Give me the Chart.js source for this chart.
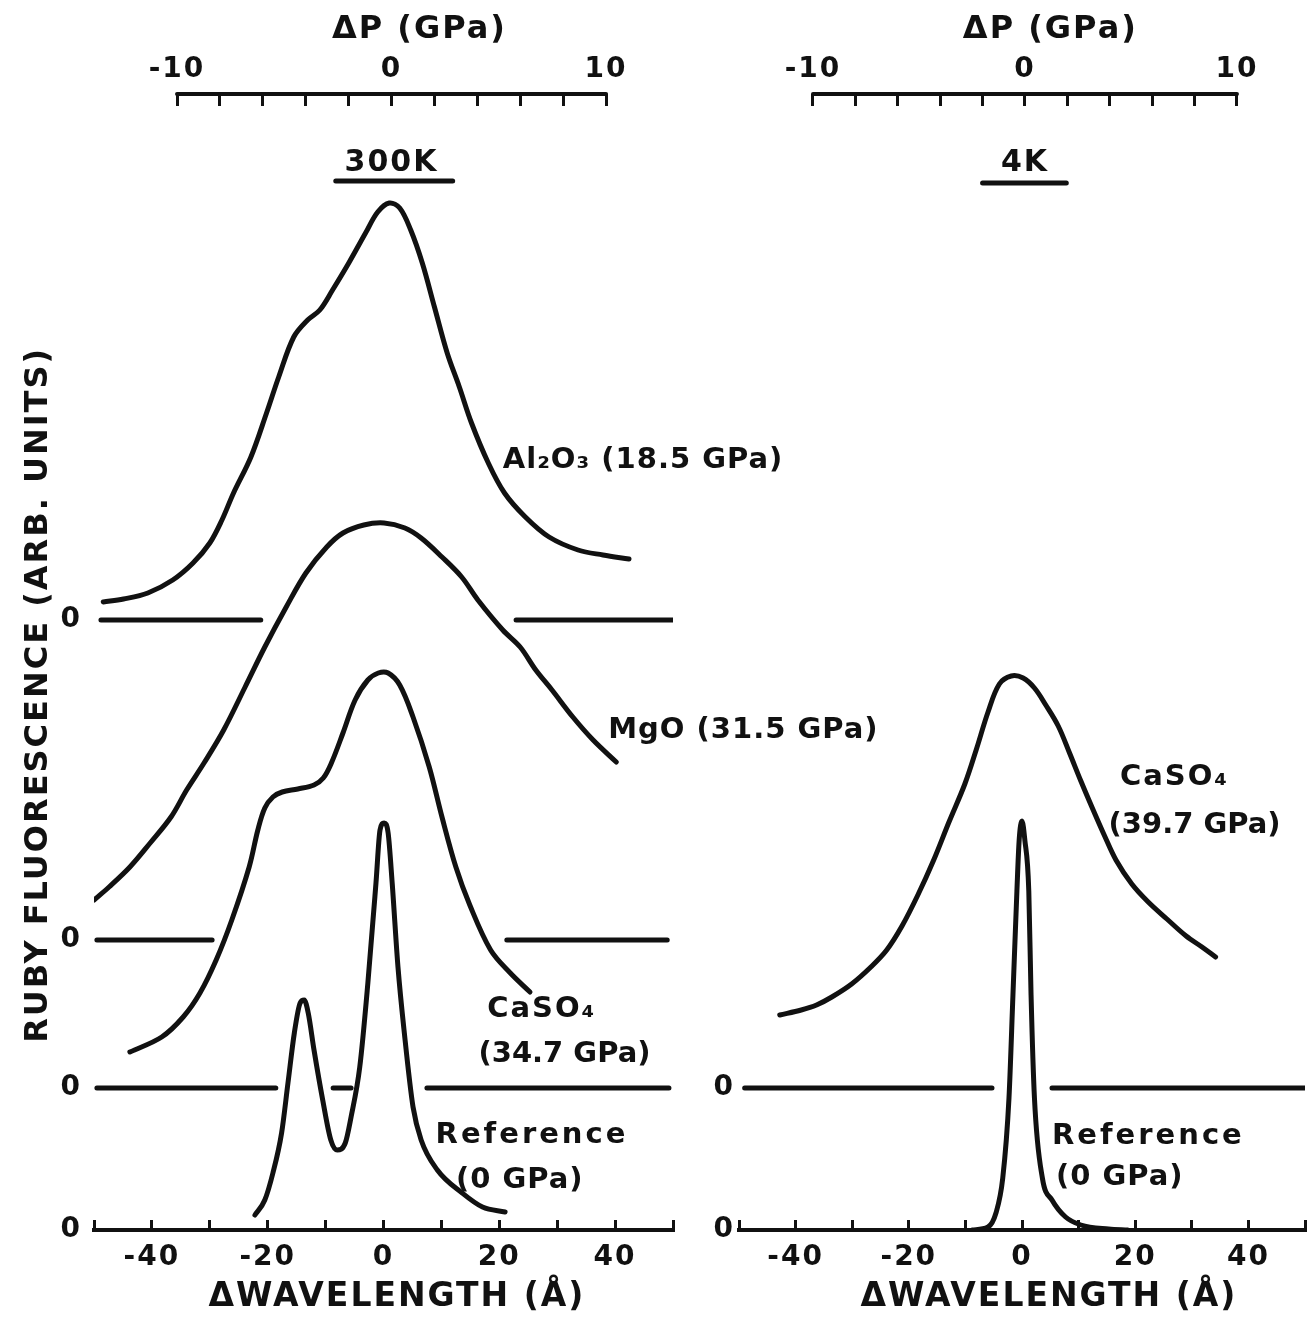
<!DOCTYPE html>
<html>
<head>
<meta charset="utf-8">
<script src="https://cdn.jsdelivr.net/npm/chart.js@4.4.1/dist/chart.umd.min.js"></script>
<style>
  html, body { margin: 0; padding: 0; background: #fff; overflow: hidden; }
  #page { position: relative; width: 1307px; height: 1323px; overflow: hidden; background: #fff; }
  #left { position: absolute; left: 0; top: 0; width: 900px; height: 1323px; }
  #right { position: absolute; left: 700px; top: 0; width: 630px; height: 1323px; }
</style>
</head>
<body>
<div id="page">
  <canvas id="left" width="900" height="1323"></canvas>
  <canvas id="right" width="630" height="1323"></canvas>
</div>
<script>
const INK = '#111'
const FONT = '"DejaVu Sans", sans-serif'

// wavelength shift (Å) and fluorescence (arb. units above each trace's own zero line)

// 300 K
const al2o3Shift = [-48.4, -44.9, -40.7, -36.4, -32.9, -30.0, -27.9, -25.9, -22.9, -20.2, -18.1, -15.5, -13.1, -11.0, -8.8, -6.0, -3.1, -1.0, 1.0, 2.8, 4.7, 6.7, 8.8, 11.0, 13.1, 15.2, 18.1, 20.9, 24.5, 28.6, 33.6, 37.9, 42.4]
const al2o3Level = [1.8, 2.1, 2.7, 4.0, 5.7, 7.7, 10.0, 12.7, 16.3, 20.7, 24.3, 28.3, 30.0, 31.0, 33.0, 35.7, 38.7, 40.8, 41.7, 41.2, 39.0, 35.7, 31.3, 26.7, 23.3, 19.7, 15.7, 12.7, 10.3, 8.3, 7.0, 6.5, 6.1]

const mgoShift = [-50.0, -47.4, -43.8, -40.3, -36.7, -34.0, -31.0, -27.6, -23.9, -20.5, -16.8, -13.4, -9.8, -7.0, -3.4, 0.1, 3.7, 6.5, 10.1, 13.5, 16.3, 20.6, 23.6, 26.3, 29.1, 32.7, 36.2, 40.2]
const mgoLevel = [4.0, 5.3, 7.3, 9.7, 12.3, 15.0, 17.7, 21.0, 25.3, 29.3, 33.3, 36.7, 39.3, 40.7, 41.5, 41.7, 41.2, 40.2, 38.3, 36.3, 34.0, 31.0, 29.3, 27.0, 25.0, 22.3, 20.0, 17.8]

const caso4Shift = [-43.8, -38.3, -34.6, -31.7, -28.9, -26.2, -23.2, -21.7, -20.5, -19.1, -17.5, -14.8, -12.0, -10.4, -9.0, -7.0, -4.9, -2.7, -0.9, 0.8, 2.8, 5.1, 7.9, 10.1, 12.5, 14.9, 18.5, 21.9, 25.3]
const caso4Level = [3.6, 5.1, 7.1, 9.5, 12.8, 16.8, 22.1, 25.8, 28.0, 29.1, 29.6, 29.9, 30.3, 31.0, 32.5, 35.5, 38.8, 40.8, 41.5, 41.5, 40.3, 37.1, 32.1, 27.1, 22.1, 18.3, 13.8, 11.5, 9.6]

const ref300Shift = [-22.2, -20.5, -19.1, -17.6, -16.5, -15.4, -14.4, -13.7, -13.0, -12.0, -10.5, -9.1, -8.0, -6.6, -5.6, -4.1, -2.7, -1.3, -0.6, 0.1, 0.8, 1.5, 2.5, 3.6, 5.1, 6.5, 9.3, 13.6, 17.1, 21.0]
const ref300Level = [1.5, 3.0, 5.7, 9.7, 14.7, 19.7, 22.7, 23.0, 21.7, 18.0, 13.0, 9.0, 8.0, 8.7, 11.3, 16.3, 24.7, 34.7, 40.0, 40.7, 39.7, 34.7, 26.3, 19.7, 12.3, 9.0, 6.0, 3.7, 2.3, 1.8]

// 4 K
const caso4ColdShift = [-42.8, -39.0, -36.3, -33.6, -30.1, -26.7, -23.9, -21.2, -18.4, -15.6, -12.9, -10.1, -8.1, -6.0, -4.0, -1.9, 0.2, 2.2, 4.2, 6.4, 8.4, 10.4, 12.5, 14.6, 16.6, 19.4, 22.3, 25.6, 29.0, 31.8, 34.2]
const caso4ColdLevel = [7.3, 7.8, 8.3, 9.1, 10.4, 12.1, 13.8, 16.2, 19.3, 22.8, 26.6, 30.4, 33.8, 37.6, 40.4, 41.2, 41.0, 40.0, 38.3, 36.2, 33.5, 30.7, 27.9, 25.2, 22.8, 20.4, 18.6, 16.9, 15.2, 14.1, 13.1]

const ref4Shift = [-8.8, -6.0, -4.6, -3.4, -2.3, -1.6, -0.9, -0.5, 0.0, 0.5, 1.2, 1.6, 2.2, 3.6, 5.3, 7.7, 10.4, 15.3, 18.7]
const ref4Level = [0, 0.3, 1.7, 5.2, 13.2, 23.5, 33.9, 39.0, 40.9, 39.0, 33.9, 23.5, 13.2, 5.2, 3.0, 1.3, 0.5, 0.1, 0]

// zero lines, drawn as from/to pairs (Å)
const al2o3Zero = [-48.8, -21.2, 22.9, 50.0]
const mgoZero = [-49.5, -29.6, 21.3, 49.0]
const caso4Zero = [-49.5, -18.6, -8.7, -5.6, 7.5, 49.3]
const caso4ColdZero = [-49.0, -5.3, 5.3, 50.0]

// where each trace's zero sits on the common intensity axis
const al2o3Base = 61.0
const mgoBase = 29.0
const caso4Base = 14.2
const refBase = 0

const wavelengthTicks = [-50, -40, -30, -20, -10, 0, 10, 20, 30, 40, 50]
const wavelengthLabels = [-40, -20, 0, 20, 40]
const pressureTicks = [-10, -8, -6, -4, -2, 0, 2, 4, 6, 8, 10]
const pressureLabels = [-10, 0, 10]

const Y_MAX = 113.6
const NBSP = '\u00a0'

// broad bands get a plain bezier, the narrow reference lines stay monotone so the peaks don't overshoot
function trace(shift, level, base, narrow) {
  const ds = {
    data: shift.map((v, i) => ({x: v, y: level[i] + base})),
    borderColor: INK
  }
  if (narrow) ds.cubicInterpolationMode = 'monotone'
  else ds.tension = 0.35
  return ds
}

function zero(edges, base) {
  const pts = []
  for (let i = 0; i < edges.length; i += 2) {
    if (i > 0) pts.push({x: (edges[i - 1] + edges[i]) / 2, y: null})
    pts.push({x: edges[i], y: base}, {x: edges[i + 1], y: base})
  }
  return {data: pts, tension: 0, borderColor: INK}
}

// ΔP ruler, headings and curve labels
function decor(cfg) {
  return {
    id: 'decor',
    beforeDraw(chart) {
      chart.ctx.letterSpacing = '2px'
    },
    afterDraw(chart) {
      const {ctx} = chart
      const {x, y, p} = chart.scales
      ctx.save()
      ctx.strokeStyle = INK
      ctx.fillStyle = INK
      ctx.lineCap = 'round'

      ctx.lineWidth = 4
      ctx.beginPath()
      ctx.moveTo(p.getPixelForValue(pressureTicks[0]), p.bottom)
      ctx.lineTo(p.getPixelForValue(pressureTicks[pressureTicks.length - 1]), p.bottom)
      ctx.stroke()

      ctx.textAlign = 'center'
      ctx.textBaseline = 'middle'
      ctx.letterSpacing = '2px'
      ctx.font = 'bold 32px ' + FONT
      ctx.fillText('ΔP (GPa)', p.getPixelForValue(cfg.titleAt[0]), y.getPixelForValue(cfg.titleAt[1]))

      ctx.font = 'bold 30px ' + FONT
      ctx.fillText(cfg.temp, p.getPixelForValue(0), y.getPixelForValue(cfg.tempAt))
      ctx.lineWidth = 5
      ctx.beginPath()
      ctx.moveTo(p.getPixelForValue(cfg.rule[0]), y.getPixelForValue(cfg.rule[2]))
      ctx.lineTo(p.getPixelForValue(cfg.rule[1]), y.getPixelForValue(cfg.rule[2]))
      ctx.stroke()

      ctx.textAlign = 'left'
      cfg.notes.forEach(n => {
        ctx.font = 'bold ' + n.size + 'px ' + FONT
        ctx.letterSpacing = n.spacing + 'px'
        ctx.fillText(n.text, x.getPixelForValue(n.x), y.getPixelForValue(n.y))
      })
      ctx.restore()
    }
  }
}

function panel(id, cfg) {
  const tickFont = {family: FONT, size: 28, weight: 'bold'}
  const titleFont = {family: FONT, size: 32, weight: 'bold'}

  return new Chart(document.getElementById(id), {
    type: 'line',
    data: {datasets: cfg.datasets},
    options: {
      responsive: false,
      maintainAspectRatio: false,
      animation: false,
      events: [],
      layout: {padding: {left: 0, right: cfg.padRight, top: 0, bottom: 0}},
      datasets: {
        line: {
          borderColor: INK,
          borderWidth: 5,
          pointRadius: 0,
          borderCapStyle: 'round',
          borderJoinStyle: 'round',
          fill: false,
          spanGaps: false
        }
      },
      plugins: {
        colors: {enabled: false},
        legend: {display: false},
        tooltip: {enabled: false}
      },
      scales: {
        x: {
          type: 'linear',
          position: 'bottom',
          min: -50,
          max: 50,
          afterFit: s => { s.height = 93 },
          afterBuildTicks: s => { s.ticks = wavelengthTicks.map(v => ({value: v})) },
          border: {display: true, color: INK, width: 4},
          grid: {display: true, drawOnChartArea: false, drawTicks: true, tickLength: -10, tickWidth: 3, tickColor: INK},
          ticks: {
            autoSkip: false,
            maxRotation: 0,
            padding: 21,
            color: INK,
            font: tickFont,
            callback: v => wavelengthLabels.includes(v) ? String(v) : ''
          },
          title: {
            display: true,
            text: NBSP.repeat(cfg.xTitleShift) + 'ΔWAVELENGTH (Å)',
            color: INK,
            font: {family: FONT, size: 33, weight: 'bold'},
            padding: {top: 0, bottom: 6}
          }
        },
        p: {
          type: 'linear',
          axis: 'x',
          position: 'top',
          min: cfg.pMin,
          max: cfg.pMax,
          afterFit: s => { s.height = 94 },
          afterBuildTicks: s => { s.ticks = pressureTicks.map(v => ({value: v})) },
          border: {display: false},
          grid: {display: true, drawOnChartArea: false, drawTicks: true, tickLength: -12, tickWidth: 3, tickColor: INK},
          ticks: {
            autoSkip: false,
            maxRotation: 0,
            padding: 19,
            color: INK,
            font: tickFont,
            callback: v => pressureLabels.includes(v) ? String(v) : ''
          }
        },
        y: {
          type: 'linear',
          min: 0,
          max: Y_MAX,
          afterFit: s => { s.width = cfg.yWidth },
          afterBuildTicks: s => { s.ticks = cfg.zeros.map(v => ({value: v})) },
          border: {display: false},
          grid: {display: false, drawTicks: false},
          ticks: {padding: cfg.yPad, color: INK, font: tickFont, callback: () => '0'},
          title: {
            display: !!cfg.yTitle,
            text: cfg.yTitle || '',
            color: INK,
            font: titleFont,
            padding: {top: 19, bottom: 0}
          }
        }
      }
    },
    plugins: [decor(cfg)]
  })
}

panel('left', {
  datasets: [
    trace(al2o3Shift, al2o3Level, al2o3Base),
    trace(mgoShift, mgoLevel, mgoBase),
    trace(caso4Shift, caso4Level, caso4Base),
    trace(ref300Shift, ref300Level, refBase, true),
    zero(al2o3Zero, al2o3Base),
    zero(mgoZero, mgoBase),
    zero(caso4Zero, caso4Base)
  ],
  zeros: [refBase, caso4Base, mgoBase, al2o3Base],
  pMin: -13.87,
  pMax: 13.12,
  yWidth: 94,
  yPad: 12,
  padRight: 227,
  xTitleShift: 2,
  yTitle: 'RUBY FLUORESCENCE (ARB. UNITS)' + NBSP.repeat(5),
  titleAt: [1.3, 120.0],
  temp: '300K',
  tempAt: 106.7,
  rule: [-2.6, 2.85, 104.9],
  notes: [
    {text: 'Al₂O₃ (18.5 GPa)', x: 20.6, y: 77.0, size: 29, spacing: 1},
    {text: 'MgO (31.5 GPa)', x: 38.8, y: 50.0, size: 29, spacing: 1},
    {text: 'CaSO₄', x: 17.9, y: 22.1, size: 29, spacing: 2},
    {text: '(34.7 GPa)', x: 16.4, y: 17.6, size: 29, spacing: 0},
    {text: 'Reference', x: 9.0, y: 9.5, size: 29, spacing: 3},
    {text: '(0 GPa)', x: 12.5, y: 5.0, size: 29, spacing: 1}
  ]
})

// canvas runs past the page edge so the axis can reach it despite the tick-label padding
panel('right', {
  datasets: [
    trace(caso4ColdShift, caso4ColdLevel, caso4Base),
    trace(ref4Shift, ref4Level, refBase, true),
    zero(caso4ColdZero, caso4Base)
  ],
  zeros: [refBase, caso4Base],
  pMin: -13.49,
  pMax: 13.21,
  yWidth: 39,
  yPad: 4,
  padRight: 25,
  xTitleShift: 4,
  yTitle: null,
  titleAt: [1.2, 120.0],
  temp: '4K',
  tempAt: 106.7,
  rule: [-2.0, 1.95, 104.7],
  notes: [
    {text: 'CaSO₄', x: 17.3, y: 45.3, size: 29, spacing: 2},
    {text: '(39.7 GPa)', x: 15.3, y: 40.5, size: 29, spacing: 0},
    {text: 'Reference', x: 5.3, y: 9.4, size: 29, spacing: 3},
    {text: '(0 GPa)', x: 6.0, y: 5.3, size: 29, spacing: 1}
  ]
})
</script>
</body>
</html>
